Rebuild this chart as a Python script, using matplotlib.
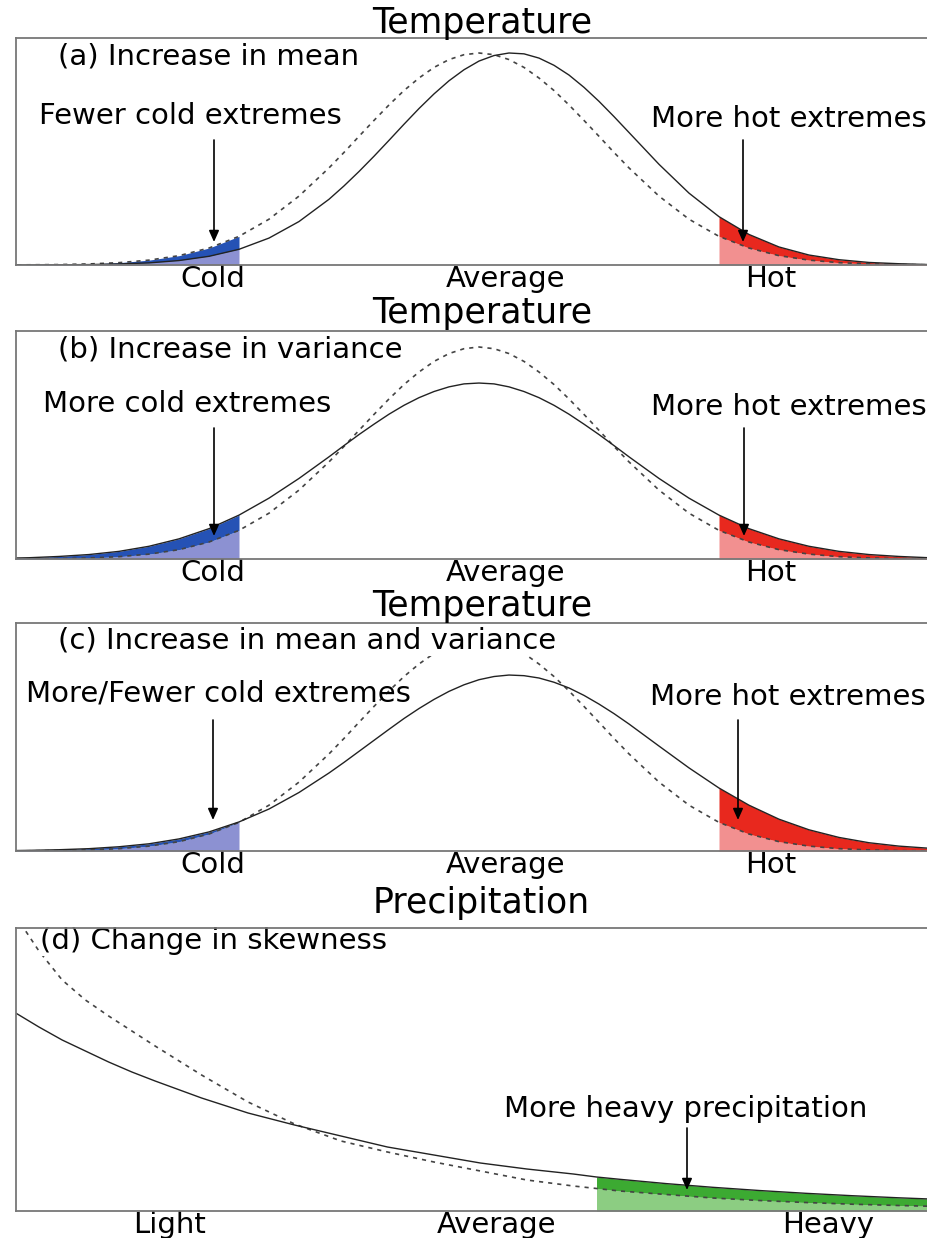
import numpy as np
import matplotlib
matplotlib.use("Agg")
import matplotlib.pyplot as plt

plt.rcParams["font.family"] = ["DejaVu Sans"]

# ---------------- data ----------------
# temperature panels: x in units of the old standard deviation (0 = old mean),
# y = relative frequency (old peak = 1)
temp_x = [-4.0, -3.75, -3.5, -3.25, -3.0, -2.75, -2.5, -2.25, -2.0, -1.75, -1.5, -1.25,
          -1.125, -1.0, -0.875, -0.75, -0.625, -0.5, -0.375, -0.25, -0.125, 0.0,
          0.125, 0.25, 0.375, 0.5, 0.625, 0.75, 0.875, 1.0, 1.125,
          1.25, 1.5, 1.75, 2.0, 2.25, 2.5, 2.75, 3.0, 3.25, 3.5, 3.75, 4.0]
temp_old = [0.000, 0.001, 0.002, 0.005, 0.011, 0.023, 0.044, 0.080, 0.135, 0.216, 0.325, 0.458,
            0.531, 0.607, 0.682, 0.755, 0.823, 0.882, 0.932, 0.969, 0.992, 1.000,
            0.992, 0.969, 0.932, 0.882, 0.823, 0.755, 0.682, 0.607, 0.531,
            0.458, 0.325, 0.216, 0.135, 0.080, 0.044, 0.023, 0.011, 0.005, 0.002, 0.001, 0.000]
temp_mean_up = [0.000, 0.000, 0.001, 0.002, 0.005, 0.010, 0.021, 0.041, 0.074, 0.127, 0.205, 0.310,
                0.373, 0.441, 0.513, 0.588, 0.664, 0.738, 0.807, 0.869, 0.921, 0.962,
                0.988, 1.000, 0.996, 0.976, 0.942, 0.896, 0.838, 0.772, 0.700,
                0.625, 0.475, 0.339, 0.228, 0.144, 0.085, 0.047, 0.025, 0.012, 0.006, 0.002, 0.001]
temp_var_up = [0.003, 0.006, 0.012, 0.021, 0.036, 0.060, 0.095, 0.143, 0.207, 0.287, 0.380, 0.482,
               0.535, 0.587, 0.636, 0.683, 0.725, 0.761, 0.790, 0.812, 0.826, 0.830,
               0.826, 0.812, 0.790, 0.761, 0.725, 0.683, 0.636, 0.587, 0.535,
               0.482, 0.380, 0.287, 0.207, 0.143, 0.095, 0.060, 0.036, 0.021, 0.012, 0.006, 0.003]
temp_mean_var_up = [0.001, 0.003, 0.006, 0.011, 0.020, 0.034, 0.057, 0.090, 0.137, 0.198, 0.276, 0.368,
                    0.418, 0.470, 0.522, 0.574, 0.625, 0.672, 0.715, 0.753, 0.784, 0.808,
                    0.823, 0.830, 0.827, 0.816, 0.796, 0.769, 0.734, 0.693, 0.648,
                    0.599, 0.495, 0.392, 0.297, 0.216, 0.150, 0.100, 0.064, 0.039, 0.023, 0.013, 0.007]
temp_tick_pos = [-2.22, 0.22, 2.43]
temp_tick_labels = ["Cold", "Average", "Hot"]
cold_limit = -2.0
hot_limit = 2.0

# precipitation panel: x in arbitrary amount units, y = relative frequency
precip_x = [0.0, 0.25, 0.5, 0.75, 1.0, 1.25, 1.5, 2.0, 2.5, 3.0, 3.5, 4.0, 4.5, 5.0, 5.5, 6.0,
            6.25, 6.5, 7.0, 7.5, 8.0, 8.5, 9.0, 9.5, 10.0]
precip_old = [2.95, 2.60, 2.31, 2.11, 1.95, 1.80, 1.65, 1.36, 1.09, 0.87, 0.70, 0.59, 0.49, 0.40,
              0.31, 0.25, 0.225, 0.20, 0.165, 0.13, 0.105, 0.085, 0.068, 0.055, 0.044]
precip_new = [1.98, 1.84, 1.71, 1.60, 1.49, 1.39, 1.30, 1.13, 0.98, 0.86, 0.75, 0.64, 0.56, 0.48,
              0.42, 0.37, 0.34, 0.317, 0.274, 0.237, 0.205, 0.177, 0.153, 0.132, 0.114]
precip_tick_pos = [1.66, 5.17, 8.74]
precip_tick_labels = ["Light", "Average", "Heavy"]
heavy_limit = 6.25

# ---------------- layout (pixels of a 927x1238 canvas) ----------------
W, H = 927, 1238
fig = plt.figure(figsize=(W / 100, H / 100), dpi=100)

SPINE = "#777777"
FS = 21
TFS = 25


def fx(px):
    return px / W


def fy(py):
    return 1 - py / H


def make_axes(top, bottom):
    left, right = 15.7, 945
    ax = fig.add_axes([fx(left), fy(bottom), (right - left) / W, (bottom - top) / H])
    for s in ax.spines.values():
        s.set_color(SPINE)
        s.set_linewidth(1.3)
    ax.set_yticks([])
    ax.tick_params(axis="x", length=0, pad=0, labelsize=FS)
    return ax


def shade(ax, xs, old, new, mask, light, dark):
    lo = np.minimum(old, new)
    hi = np.maximum(old, new)
    ax.fill_between(xs[mask], 0, lo[mask], color=light, lw=0, zorder=1)
    ax.fill_between(xs[mask], lo[mask], hi[mask], color=dark, lw=0, zorder=1)


def curves(ax, xs, old, new):
    ax.plot(xs, old, color="#444444", lw=1.2, ls=(0, (2.5, 3)), zorder=2)
    ax.plot(xs, new, color="#222222", lw=1.0, zorder=2)


def arrow(x, y0, y1):
    fig.add_artist(plt.Annotation(
        "", xy=(fx(x), fy(y1)), xytext=(fx(x), fy(y0)),
        xycoords="figure fraction", textcoords="figure fraction",
        arrowprops=dict(arrowstyle="-|>,head_length=0.45,head_width=0.2",
                        color="black", lw=1.2, shrinkA=0, shrinkB=0,
                        mutation_scale=15)))


def ftext(x, y, s, size=FS, ha="left"):
    fig.text(fx(x), fy(y), s, fontsize=size, ha=ha, va="baseline")


def panel_label(ax, x, y, s):
    # white box hides curves under the label but stays below the frame
    ax.text(fx(x), fy(y), s, fontsize=FS, ha="left", va="baseline",
            transform=fig.transFigure, zorder=2.2,
            bbox=dict(facecolor="white", edgecolor="none", pad=0.5))


tx = np.array(temp_x)
old_t = np.array(temp_old)
temp_panels = [
    dict(top=38, bottom=265, new=temp_mean_up, title_y=33,
         label="(a) Increase in mean", label_pos=(58, 64),
         cold="Fewer cold extremes", cold_pos=(39, 124), hot_pos=(651, 127),
         cold_arrow=(214, 140, 242), hot_arrow=(743, 140, 242)),
    dict(top=331, bottom=559, new=temp_var_up, title_y=323,
         label="(b) Increase in variance", label_pos=(58, 357),
         cold="More cold extremes", cold_pos=(43, 412), hot_pos=(651, 415),
         cold_arrow=(214, 428, 536), hot_arrow=(744, 428, 536)),
    dict(top=623, bottom=851, new=temp_mean_var_up, title_y=616,
         label="(c) Increase in mean and variance", label_pos=(58, 649),
         cold="More/Fewer cold extremes", cold_pos=(26, 702), hot_pos=(650, 705),
         cold_arrow=(213, 720, 820), hot_arrow=(738, 720, 820)),
]

for p in temp_panels:
    ax = make_axes(p["top"], p["bottom"])
    new = np.array(p["new"])
    shade(ax, tx, old_t, new, tx <= cold_limit, "#8c91d2", "#2552b5")
    shade(ax, tx, old_t, new, tx >= hot_limit, "#f29090", "#e8281e")
    curves(ax, tx, old_t, new)
    ax.set_xlim((15.7 - 479) / 120, (945 - 479) / 120)
    ax.set_ylim(0, (p["bottom"] - p["top"]) / 212)
    ax.set_xticks(temp_tick_pos, temp_tick_labels)
    ftext(482, p["title_y"], "Temperature", size=TFS, ha="center")
    panel_label(ax, *p["label_pos"], p["label"])
    ftext(*p["cold_pos"], p["cold"])
    ftext(*p["hot_pos"], "More hot extremes")
    arrow(*p["cold_arrow"])
    arrow(*p["hot_arrow"])

# precipitation
px_ = np.array(precip_x)
old_p = np.array(precip_old)
new_p = np.array(precip_new)
ax = make_axes(928, 1211)
shade(ax, px_, old_p, new_p, px_ >= heavy_limit, "#8ccd82", "#3caa32")
curves(ax, px_, old_p, new_p)
ax.set_xlim(0, 10)
ax.set_ylim(0, 2.83)
ax.set_xticks(precip_tick_pos, precip_tick_labels)
ftext(481, 913, "Precipitation", size=TFS, ha="center")
panel_label(ax, 40, 949, "(d) Change in skewness")
ftext(686, 1117, "More heavy precipitation", ha="center")
arrow(687, 1128, 1190)

fig.savefig("out.png", dpi=100)
